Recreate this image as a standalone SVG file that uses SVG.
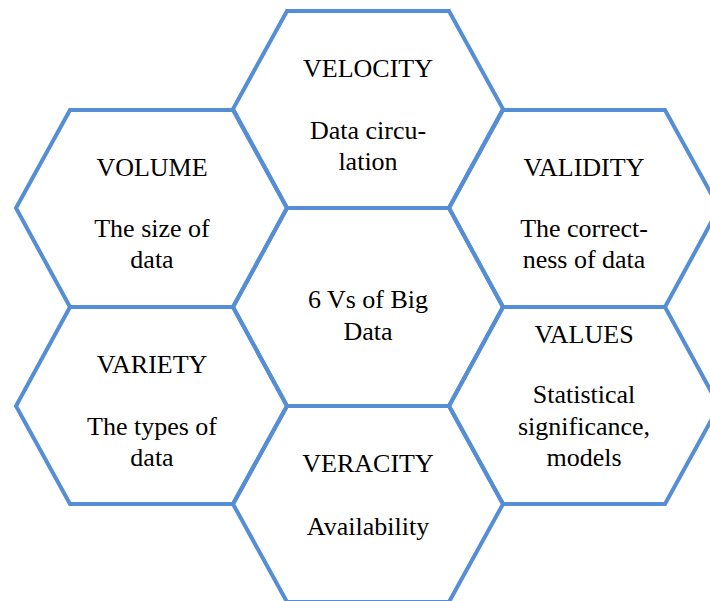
<svg xmlns="http://www.w3.org/2000/svg" width="710" height="601" viewBox="0 0 710 601">
<style>
.hex{fill:none;stroke:#558ED5;stroke-width:4;stroke-linejoin:miter}
text{font-family:"Liberation Serif","Times New Roman",serif;font-size:26px;fill:#000;text-anchor:middle}
</style>
<rect width="710" height="601" fill="#fff"/>
<g id="connectors"></g>
<g id="velocity">
<polygon class="hex" points="287,11 449,11 503,109 449,208 287,208 233,109"/>
<text x="368" y="77">VELOCITY</text>
<text x="368" y="139">Data circu-</text>
<text x="368" y="170">lation</text>
</g>
<g id="volume">
<polygon class="hex" points="70,110 233,110 287,208 233,307 70,307 16,208"/>
<text x="152" y="176">VOLUME</text>
<text x="152" y="237">The size of</text>
<text x="152" y="268">data</text>
</g>
<g id="validity">
<polygon class="hex" points="503,110 665,110 719,208 665,307 503,307 449,208"/>
<text x="584" y="176">VALIDITY</text>
<text x="584" y="237">The correct-</text>
<text x="584" y="268">ness of data</text>
</g>
<g id="center">
<polygon class="hex" points="287,208 449,208 503,307 449,406 287,406 233,307"/>
<text x="368" y="308">6 Vs of Big</text>
<text x="368" y="340">Data</text>
</g>
<g id="variety">
<polygon class="hex" points="70,307 233,307 287,406 233,504 70,504 16,406"/>
<text x="152" y="373">VARIETY</text>
<text x="152" y="435">The types of</text>
<text x="152" y="466">data</text>
</g>
<g id="values">
<polygon class="hex" points="503,307 665,307 719,406 665,504 503,504 449,406"/>
<text x="584" y="343">VALUES</text>
<text x="584" y="403">Statistical</text>
<text x="584" y="435">significance,</text>
<text x="584" y="466">models</text>
</g>
<g id="veracity">
<polygon class="hex" points="287,406 449,406 503,504 449,602 287,602 233,504"/>
<text x="368" y="472">VERACITY</text>
<text x="368" y="535">Availability</text>
</g>
</svg>
